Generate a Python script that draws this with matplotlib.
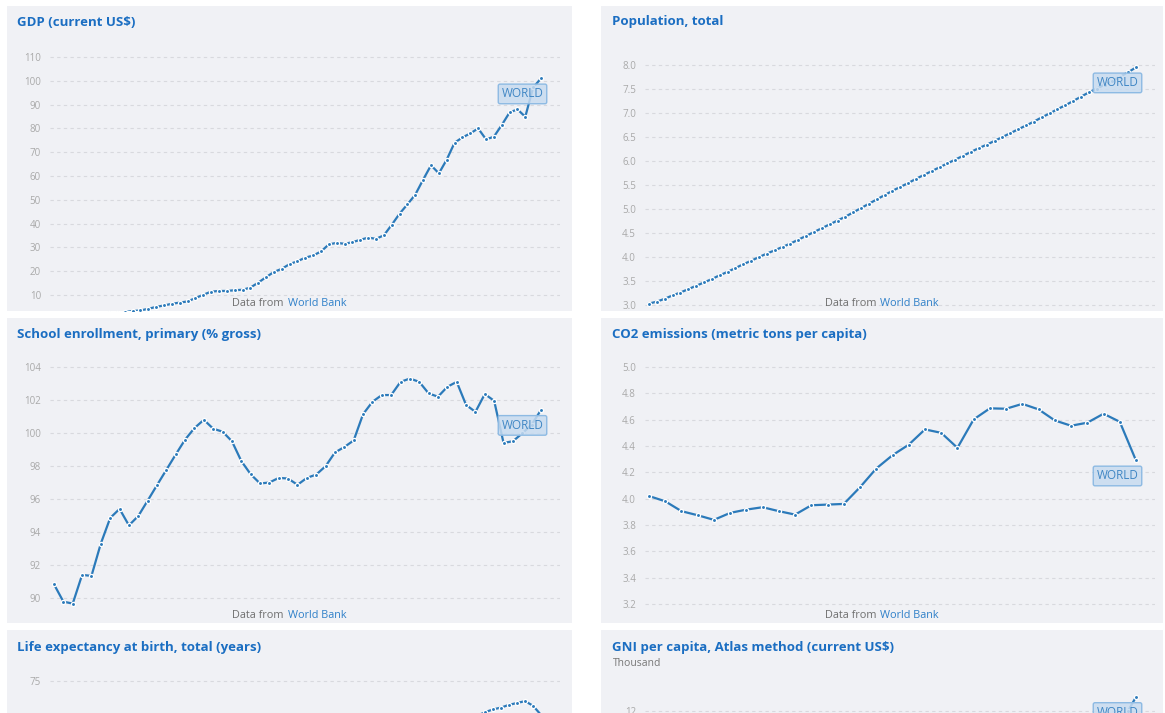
import numpy as np
import matplotlib
matplotlib.use("Agg")
import matplotlib.pyplot as plt
from matplotlib.patches import Rectangle

plt.rcParams["font.family"] = ["Open Sans", "DejaVu Sans"]

# -----------------------------
# Data (World indicators)
# -----------------------------
gdp_start = 1960
gdp_trillions = [1.38, 1.45, 1.55, 1.67, 1.83, 2.0, 2.17, 2.35, 2.55, 2.8,
                 3.3, 3.5, 4.2, 5.0, 5.6, 6.3, 6.8, 7.3, 8.7, 10.1,
                 11.4, 11.7, 11.7, 12.0, 12.2, 13.1, 15.2, 17.5, 19.7, 21.0,
                 23.0, 24.2, 25.7, 26.6, 28.3, 31.3, 31.9, 31.5, 32.2, 33.2,
                 34.1, 33.6, 35.1, 39.5, 44.2, 48.1, 52.2, 58.5, 64.5, 61.1,
                 66.9, 74.0, 76.2, 77.9, 80.0, 75.4, 76.5, 81.4, 86.7, 88.0,
                 84.9, 97.2, 101.0]

pop_start = 1960
pop_billions = [3.03, 3.07, 3.13, 3.20, 3.26, 3.33, 3.40, 3.47, 3.54, 3.62,
                3.69, 3.77, 3.85, 3.92, 4.00, 4.07, 4.14, 4.21, 4.28, 4.36,
                4.44, 4.52, 4.60, 4.68, 4.76, 4.84, 4.93, 5.02, 5.11, 5.20,
                5.29, 5.38, 5.46, 5.54, 5.63, 5.71, 5.79, 5.87, 5.95, 6.03,
                6.11, 6.19, 6.27, 6.34, 6.42, 6.50, 6.58, 6.66, 6.74, 6.82,
                6.91, 6.99, 7.08, 7.16, 7.25, 7.34, 7.43, 7.51, 7.59, 7.67,
                7.76, 7.85, 7.95]

school_start = 1970
school_pct = [90.83, 89.78, 89.66, 91.4, 91.34, 93.3, 94.85, 95.4, 94.4, 94.97,
              95.9, 96.84, 97.77, 98.7, 99.6, 100.3, 100.8, 100.26, 100.08, 99.5,
              98.3, 97.5, 96.94, 97.0, 97.28, 97.24, 96.86, 97.28, 97.48, 97.99,
              98.82, 99.15, 99.55, 101.14, 101.89, 102.3, 102.3, 103.1, 103.3, 103.1,
              102.4, 102.2, 102.8, 103.1, 101.7, 101.28, 102.36, 101.95, 99.4, 99.5,
              99.98, 100.5, 101.4]

co2_start = 1990
co2_tons = [4.02, 3.98, 3.905, 3.874, 3.839, 3.892, 3.917, 3.935, 3.905, 3.879,
            3.95, 3.955, 3.96, 4.087, 4.229, 4.33, 4.41, 4.526, 4.5, 4.386,
            4.602, 4.686, 4.683, 4.72, 4.678, 4.594, 4.554, 4.577, 4.645, 4.584,
            4.29]

life_start = 1960
life_years = [50.8, 51.2, 52.1, 52.8, 53.6, 54.6, 55.5, 56.2, 56.9, 57.4,
              58.0, 58.6, 59.1, 59.6, 60.0, 60.4, 60.8, 61.3, 61.7, 62.1,
              62.5, 62.8, 63.2, 63.5, 63.8, 64.0, 64.3, 64.6, 64.8, 65.0,
              65.2, 65.3, 65.5, 65.6, 65.8, 66.0, 66.2, 66.4, 66.6, 66.8,
              67.1, 67.4, 67.6, 67.9, 68.2, 68.5, 68.8, 69.1, 69.4, 69.7,
              70.2, 70.5, 70.8, 71.2, 71.6, 71.9, 72.1, 72.4, 72.6, 72.8,
              72.3, 71.3]

gni_start = 1962
gni_thousand = [0.45, 0.48, 0.51, 0.55, 0.59, 0.63, 0.66, 0.71, 0.77,
                0.84, 0.93, 1.07, 1.22, 1.38, 1.50, 1.63, 1.82, 2.08, 2.40,
                2.63, 2.71, 2.68, 2.65, 2.69, 2.86, 3.15, 3.46, 3.72, 4.02,
                4.16, 4.40, 4.53, 4.79, 5.09, 5.29, 5.36, 5.32, 5.35, 5.39,
                5.37, 5.44, 5.88, 6.55, 7.25, 7.89, 8.60, 9.05, 8.85, 9.27,
                10.04, 10.55, 10.83, 10.93, 10.80, 10.55, 10.69, 11.20, 11.53, 11.11,
                11.99, 12.8]

# -----------------------------
# Style
# -----------------------------
W, H = 1165, 713
PANEL_BG = "#f0f1f5"
TITLE_C = "#1b6ec2"
LINE_C = "#2b7aba"
TICK_C = "#a9a9a9"
GRID_C = "#d8d9de"

fig = plt.figure(figsize=(W / 100, H / 100), dpi=100)
fig.patch.set_facecolor("white")


def fx(px):
    return px / W


def fy(py):
    return 1 - py / H


def panel(x0, y0, x1, y1):
    fig.add_artist(Rectangle((fx(x0), fy(y1)), (x1 - x0) / W, (y1 - y0) / H,
                             transform=fig.transFigure, facecolor=PANEL_BG,
                             edgecolor="none", zorder=-5))


def chart(left, top, bottom, start, values, ticks, ref_a, ref_b, fmt):
    ax = fig.add_axes([fx(left), fy(bottom), 510 / W, (bottom - top) / H])
    ax.set_facecolor("none")
    years = np.arange(start, start + len(values))
    ax.plot(years, values, color=LINE_C, lw=1.6, marker="o", ms=3.0,
            mfc=LINE_C, mec="white", mew=0.9, zorder=3)
    ax.set_yticks(ticks)
    ax.set_yticklabels([fmt.format(t) for t in ticks])
    ax.set_xticks([])
    # pixel-matched limits (set after the ticks so they are not widened)
    (va, ya), (vb, yb) = ref_a, ref_b
    ppu = (ya - yb) / (vb - va)
    ax.set_ylim(va - (bottom - ya) / ppu, va + (ya - top) / ppu)
    step = 487 / (len(values) - 1)
    ax.set_xlim(years[0] - 4 / step, years[0] + 506 / step)
    ax.tick_params(axis="y", length=0, pad=6.5, labelsize=7, labelcolor=TICK_C)
    ax.grid(axis="y", color=GRID_C, linestyle=(0, (3, 3)), lw=0.8)
    ax.set_axisbelow(True)
    for s in ax.spines.values():
        s.set_visible(False)
    ax.annotate("WORLD", xy=(years[-1], values[-1]), xytext=(-18.5, -15.5),
                textcoords="offset pixels", ha="center", va="center",
                fontsize=8.5, color="#3f86c4", annotation_clip=False, zorder=5,
                bbox=dict(boxstyle="round,pad=0.28,rounding_size=0.15",
                          fc=(0.78, 0.86, 0.94, 0.85), ec="#8dbae3", lw=1))
    return ax


def title(x, y, s):
    fig.text(fx(x), fy(y), s, fontsize=9.5, fontweight="bold", color=TITLE_C,
             ha="left", va="center")


renderer = fig.canvas.get_renderer()


def source(cx, y):
    t1 = fig.text(0, fy(y), "Data from", fontsize=7.8, color="#6f6f6f", va="center")
    t2 = fig.text(0, fy(y), "World Bank", fontsize=7.8, color="#2f80c9", va="center")
    w1 = t1.get_window_extent(renderer).width
    w2 = t2.get_window_extent(renderer).width
    gap = 4
    x0 = cx - (w1 + gap + w2) / 2
    t1.set_x(fx(x0))
    t2.set_x(fx(x0 + w1 + gap))


# panels
for (x0, x1) in [(7, 572), (601, 1163)]:
    panel(x0, 6, x1, 311)
    panel(x0, 318, x1, 623)
    panel(x0, 630, x1, 713)

# row 1
title(17, 22, "GDP (current US$)")
chart(50, 45, 311, gdp_start, gdp_trillions, list(range(10, 111, 10)),
      (110, 57), (10, 295), "{:d}")
source(289.5, 303)

title(612, 22, "Population, total")
chart(645, 45, 311, pop_start, pop_billions, [3.0 + 0.5 * i for i in range(11)],
      (8.0, 65), (3.0, 305), "{:.1f}")
source(882, 303)

# row 2
title(17, 335, "School enrollment, primary (% gross)")
chart(50, 355, 623, school_start, school_pct, list(range(90, 105, 2)),
      (104, 367), (90, 598), "{:d}")
source(289.5, 615)

title(612, 335, "CO2 emissions (metric tons per capita)")
chart(645, 355, 623, co2_start, co2_tons, [3.2 + 0.2 * i for i in range(10)],
      (5.0, 367), (3.2, 604), "{:.1f}")
source(882, 615)

# row 3 (cut off at the bottom)
title(17, 647, "Life expectancy at birth, total (years)")
chart(50, 668, 713, life_start, life_years, list(range(50, 76, 5)),
      (75, 681), (70, 726.8), "{:d}")

title(612, 647, "GNI per capita, Atlas method (current US$)")
fig.text(fx(613), fy(664), "Thousand", fontsize=7.5, color="#777777",
         ha="left", va="center")
chart(645, 680, 713, gni_start, gni_thousand, list(range(0, 13, 2)),
      (12, 711), (10, 746), "{:d}")

fig.savefig("out.png", dpi=100, facecolor="white")
